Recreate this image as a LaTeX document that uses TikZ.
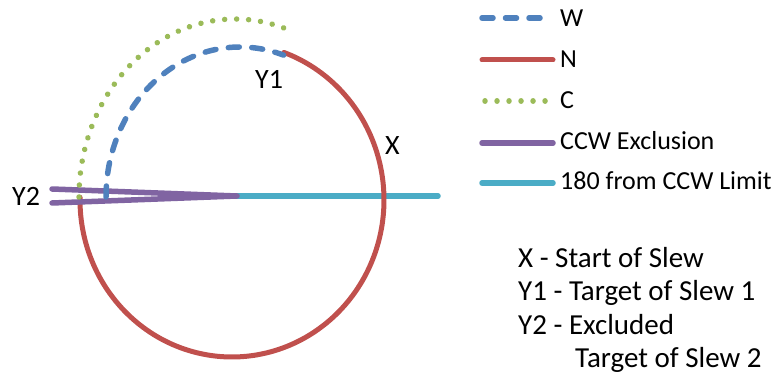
\documentclass[tikz,border=0pt]{standalone}
\usepackage{fontspec}
\setmainfont{Carlito}
\definecolor{cW}{HTML}{4F81BD}
\definecolor{cN}{HTML}{C0504D}
\definecolor{cC}{HTML}{9BBB59}
\definecolor{cX}{HTML}{8064A2}
\definecolor{cL}{HTML}{4BACC6}
\begin{document}
\begin{tikzpicture}[x=1pt,y=-1pt,
  wline/.style={draw=cW,line width=5.5pt,line cap=round,dash pattern=on 11pt off 12.5pt},
  nline/.style={draw=cN,line width=5pt,line cap=round},
  cline/.style={draw=cC,line width=5.5pt,line cap=round,dash pattern=on 0.01pt off 12pt},
  xline/.style={draw=cX,line width=5.5pt,line cap=round},
  lline/.style={draw=cL,line width=5.5pt,line cap=round},
  lbl/.style={font=\fontsize{28}{32}\selectfont, inner sep=0pt, anchor=base west},
  legtxt/.style={font=\fontsize{26}{30}\selectfont, inner sep=0pt, anchor=base west},
  notetxt/.style={font=\fontsize{29}{33}\selectfont, inner sep=0pt, anchor=base west},
]
\useasboundingbox (0,0) rectangle (782,382);
% key points
\coordinate (pv) at (237,196);
\coordinate (pa) at (52,189);
\coordinate (pb) at (52,203);
\coordinate (pe) at (438,196);
% cyan limit line
\draw[lline] (pv) -- (pe);
% red N arc
\draw[nline] plot[domain=-70:181,samples=160,variable=\t] ({232+152*cos(\t)},{200+157*sin(\t)});
% purple exclusion wedge
\draw[xline,line join=round] (pa) -- (pv) -- (pb);
% blue W arc
\draw[wline] plot[domain=180:289,samples=100,variable=\t] ({240+134*cos(\t)},{197+150*sin(\t)});
% green C arc
\draw[cline] plot[domain=180:289,samples=100,variable=\t] ({235+156*cos(\t)},{197+178*sin(\t)});
% labels
\node[lbl] (y1) at (255,89) {Y1};
\node[lbl] (x) at (385,155) {X};
\node[lbl] (y2) at (12,206) {Y2};
% legend
\coordinate (w1) at (482,18);  \coordinate (w2) at (548,18);
\coordinate (n1) at (482,60);  \coordinate (n2) at (553,60);
\coordinate (c1) at (485,101); \coordinate (c2) at (548,101);
\coordinate (e1) at (482,143); \coordinate (e2) at (553,143);
\coordinate (l1) at (482,183); \coordinate (l2) at (553,183);
\draw[wline] (w1) -- (w2);
\draw[nline] (n1) -- (n2);
\draw[cline] (c1) -- (c2);
\draw[xline] (e1) -- (e2);
\draw[lline] (l1) -- (l2);
\node[legtxt] (tw) at (560,27) {W};
\node[legtxt] (tn) at (560,68) {N};
\node[legtxt] (tc) at (560,109) {C};
\node[legtxt] (te) at (560,150) {CCW Exclusion};
\node[legtxt] (tl) at (560,190) {180 from CCW Limit};
% notes
\node[notetxt] (k1) at (518,268) {X - Start of Slew};
\node[notetxt] (k2) at (518,301) {Y1 - Target of Slew 1};
\node[notetxt] (k3) at (518,334) {Y2 - Excluded};
\node[notetxt] (k4) at (575,367) {Target of Slew 2};
\end{tikzpicture}
\end{document}
